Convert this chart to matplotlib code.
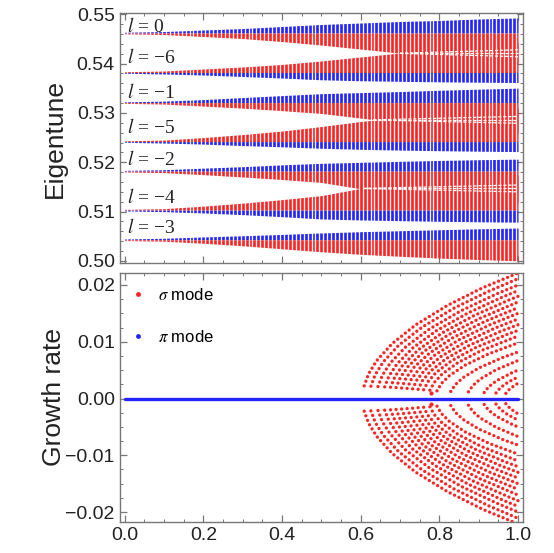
import numpy as np
import matplotlib
matplotlib.use('Agg')
import matplotlib.pyplot as plt
from matplotlib.lines import Line2D
from matplotlib.ticker import MultipleLocator, FuncFormatter

plt.rcParams['font.family'] = ['Liberation Sans', 'DejaVu Sans']
plt.rcParams['mathtext.fontset'] = 'stix'

RED = '#ff2424'
BLUE = '#2424ff'

# ---------------- top panel data (eigentune bands) ----------------
band_labels = ['0', '\u22126', '\u22121', '\u22125', '\u22122', '\u22124', '\u22123']
band_center = [0.5462, 0.5382, 0.5321, 0.5242, 0.5182, 0.5103, 0.5043]
band_label_y = [0.5464, 0.5401, 0.5330, 0.5259, 0.5194, 0.5117, 0.5057]
band_blue_above = [True, False, True, False, True, False, True]
band_x = [0.0, 0.1, 0.2, 0.3, 0.4, 0.5, 0.6, 0.7, 0.8, 0.9, 1.0]
# half-widths of the blue / red parts (units of 1e-3)
blue_ext = [
    [0.16, 0.30, 0.61, 0.91, 1.32, 1.73, 2.03, 2.34, 2.54, 2.85, 3.05],   # l=0
    [0.16, 0.30, 0.51, 0.81, 1.12, 1.48, 1.67, 1.79, 1.89, 1.97, 2.03],   # l=-6
    [0.16, 0.30, 0.61, 1.02, 1.42, 1.81, 2.03, 2.24, 2.50, 2.72, 2.93],   # l=-1
    [0.16, 0.30, 0.51, 0.81, 1.06, 1.36, 1.57, 1.73, 1.85, 1.95, 2.03],   # l=-5
    [0.16, 0.30, 0.61, 0.91, 1.28, 1.59, 1.79, 1.99, 2.17, 2.32, 2.44],   # l=-2
    [0.16, 0.30, 0.57, 0.91, 1.32, 1.79, 1.99, 2.13, 2.26, 2.36, 2.44],   # l=-4
    [0.16, 0.30, 0.57, 0.81, 1.08, 1.38, 1.63, 1.83, 2.03, 2.22, 2.38],   # l=-3
]
red_ext = [
    [0.16, 0.30, 0.71, 1.12, 1.73, 2.44, 3.25, 4.07, 4.88, 5.49, 6.10],   # l=0
    [0.16, 0.30, 0.71, 1.12, 1.63, 2.34, 3.15, 3.96, 4.78, 5.49, 6.10],   # l=-6
    [0.16, 0.30, 0.71, 1.12, 1.63, 2.20, 3.15, 4.07, 4.88, 5.69, 6.30],   # l=-1
    [0.16, 0.30, 0.81, 1.42, 2.13, 3.05, 4.07, 4.88, 5.69, 6.30, 6.91],   # l=-5
    [0.16, 0.30, 0.71, 1.18, 1.69, 2.28, 3.58, 4.27, 5.08, 5.69, 6.30],   # l=-2
    [0.16, 0.30, 0.81, 1.42, 2.13, 2.95, 4.41, 5.18, 5.89, 6.50, 7.11],   # l=-4
    [0.16, 0.30, 0.71, 1.22, 1.83, 2.44, 2.95, 3.35, 3.72, 4.02, 4.27],   # l=-3
]
# where the red parts of neighbouring bands meet (white braided gaps to the right)
fork_tip_x = [0.70, 0.632, 0.607]
fork_tip_y = [0.5421, 0.5286, 0.5147]
fork_end_offset = [0.0007, 0.0, -0.0007]

# ---------------- bottom panel data (growth rate) ----------------
# unstable sigma-mode branches (x, growth rate in units of 1e-3); mirrored +/-
arcs = [
    ([0.609, 0.620, 0.640, 0.680, 0.740, 0.820, 0.910, 1.0], [2.23, 4.33, 6.61, 9.67, 12.98, 16.38, 19.51, 22.1]),
    ([0.626, 0.637, 0.657, 0.697, 0.757, 0.837, 0.927, 1.0], [2.17, 4.20, 6.42, 9.40, 12.61, 15.91, 18.95, 21.1]),
    ([0.644, 0.655, 0.675, 0.715, 0.775, 0.855, 0.945, 1.0], [2.11, 4.08, 6.24, 9.13, 12.25, 15.46, 18.41, 20.0]),
    ([0.661, 0.672, 0.692, 0.732, 0.792, 0.872, 0.962, 1.0], [2.05, 3.97, 6.07, 8.88, 11.92, 15.04, 17.92, 19.0]),
    ([0.676, 0.687, 0.707, 0.747, 0.807, 0.887, 0.977, 1.0], [1.99, 3.85, 5.88, 8.61, 11.55, 14.57, 17.36, 18.0]),
    ([0.690, 0.701, 0.721, 0.761, 0.821, 0.901, 1.0], [1.92, 3.72, 5.68, 8.31, 11.15, 14.07, 17.0]),
    ([0.704, 0.715, 0.735, 0.775, 0.835, 0.915, 1.0], [1.85, 3.58, 5.47, 8.00, 10.73, 13.55, 16.0]),
    ([0.718, 0.729, 0.749, 0.789, 0.849, 0.929, 1.0], [1.77, 3.44, 5.25, 7.68, 10.31, 13.01, 15.0]),
    ([0.732, 0.743, 0.763, 0.803, 0.863, 0.943, 1.0], [1.70, 3.29, 5.02, 7.35, 9.86, 12.45, 14.0]),
    ([0.746, 0.757, 0.777, 0.817, 0.877, 0.957, 1.0], [1.62, 3.13, 4.79, 7.01, 9.40, 11.87, 13.0]),
    ([0.760, 0.771, 0.791, 0.831, 0.891, 0.971, 1.0], [1.54, 2.97, 4.54, 6.65, 8.93, 11.26, 12.0]),
    ([0.776, 0.787, 0.807, 0.847, 0.907, 1.0], [1.46, 2.82, 4.31, 6.31, 8.46, 11.0]),
    ([0.794, 0.805, 0.825, 0.865, 0.925, 1.0], [1.35, 2.62, 4.00, 5.86, 7.86, 9.8]),
    ([0.829, 0.840, 0.860, 0.900, 0.960, 1.0], [1.24, 2.40, 3.67, 5.37, 7.20, 8.2]),
    ([0.874, 0.885, 0.905, 0.945, 1.0], [1.18, 2.28, 3.48, 5.09, 6.7]),
    ([0.914, 0.925, 0.945, 0.985, 1.0], [1.05, 2.04, 3.12, 4.56, 5.0]),
    ([0.944, 0.955, 0.975, 1.0], [0.98, 1.90, 2.90, 3.8]),
    ([0.969, 0.980, 1.0], [0.91, 1.77, 2.7]),
]
extra_sigma_x = [0.779]
extra_sigma_y = [0.9]
pi_x = [0.0, 1.0]
pi_growth = [0.0, 0.0]

top_yticks = [0.50, 0.51, 0.52, 0.53, 0.54, 0.55]
bot_yticks = [-0.02, -0.01, 0.00, 0.01, 0.02]
xticks = [0.0, 0.2, 0.4, 0.6, 0.8, 1.0]

# ---------------- figure ----------------
fig = plt.figure(figsize=(5.54, 5.53), dpi=100)
ax1 = fig.add_axes([0.2161, 0.5239, 0.728, 0.4526])
ax2 = fig.add_axes([0.2161, 0.0566, 0.728, 0.4492])

XLIM = (-0.0125, 1.0127)

# top panel bands
for c, be, re_, above in zip(band_center, blue_ext, red_ext, band_blue_above):
    be = np.array(be) * 1e-3
    re_ = np.array(re_) * 1e-3
    if above:
        ax1.fill_between(band_x, c, c + be, color=BLUE, lw=0, zorder=2)
        ax1.fill_between(band_x, c - re_, c, color=RED, lw=0, zorder=2)
    else:
        ax1.fill_between(band_x, c, c + re_, color=RED, lw=0, zorder=2)
        ax1.fill_between(band_x, c - be, c, color=BLUE, lw=0, zorder=2)

# white gaps where red parts meet
for tx, ty in zip(fork_tip_x, fork_tip_y):
    for off in fork_end_offset:
        ax1.plot([tx, 1.0], [ty, ty + off], color='white', lw=0.9,
                 ls=(0, (2.5, 1.5)), zorder=3)

# dotted column texture (styling)
stripe_pos = np.arange(0.005, 1.0, 0.01)
ax1.vlines(stripe_pos, 0.49, 0.56, color='white', lw=0.95, zorder=4)

for lab, ly in zip(band_labels, band_label_y):
    ax1.text(0.006, ly, r'$l$ = ' + lab, fontsize=14, va='baseline', ha='left',
             color='#222222', zorder=6, family=['Liberation Serif', 'DejaVu Serif'])

ax1.set_xlim(*XLIM)
ax1.set_ylim(0.49953, 0.55026)
ax1.set_yticks(top_yticks)
ax1.yaxis.set_major_formatter(FuncFormatter(lambda v, p: f'{v:.2f}'))
ax1.yaxis.set_minor_locator(MultipleLocator(0.002))
ax1.set_xticks(xticks)
ax1.set_xticklabels([])
ax1.xaxis.set_minor_locator(MultipleLocator(0.05))
ax1.set_ylabel('Eigentune', fontsize=19, color='#222222')

# bottom panel
ax2.plot(pi_x, pi_growth, color=BLUE, lw=2.4, zorder=3, solid_capstyle='round')
for ax_, ay in arcs:
    ay = np.array(ay) * 1e-3
    for sgn in (1, -1):
        ax2.plot(ax_, sgn * ay, color=RED, lw=2.4, ls=(0, (0.01, 1.45)),
                 dash_capstyle='round', zorder=2)
ex = np.array(extra_sigma_y) * 1e-3
ax2.plot(extra_sigma_x, ex, 'o', color=RED, ms=3, mew=0, zorder=4)
ax2.plot(extra_sigma_x, -ex, 'o', color=RED, ms=3, mew=0, zorder=4)

handles = [Line2D([], [], ls='none', marker='o', ms=3.5, mew=0, color=RED, label=r'$\sigma$ mode'),
           Line2D([], [], ls='none', marker='o', ms=3.5, mew=0, color=BLUE, label=r'$\pi$ mode')]
ax2.legend(handles=handles, loc='upper left', frameon=False, fontsize=12,
           handlelength=0.6, handletextpad=0.9, labelspacing=1.6,
           borderaxespad=0.5, borderpad=0.3)

ax2.set_xlim(*XLIM)
ax2.set_ylim(-0.0217, 0.02206)
ax2.set_yticks(bot_yticks)
ax2.yaxis.set_major_formatter(FuncFormatter(lambda v, p: f'{v:.2f}'.replace('-', '\u2212')))
ax2.yaxis.set_minor_locator(MultipleLocator(0.0025))
ax2.set_xticks(xticks)
ax2.xaxis.set_major_formatter(FuncFormatter(lambda v, p: f'{v:.1f}'))
ax2.xaxis.set_minor_locator(MultipleLocator(0.05))
ax2.set_ylabel('Growth rate', fontsize=19, color='#222222')

for ax in (ax1, ax2):
    for sp in ax.spines.values():
        sp.set_color('#777777')
        sp.set_linewidth(1.0)
        sp.set_zorder(10)
    ax.tick_params(which='both', direction='in', top=True, right=True,
                   color='#777777', labelcolor='#222222', labelsize=14)
    ax.tick_params(which='major', length=5, width=0.9)
    ax.tick_params(which='minor', length=2.5, width=0.7)
    ax.yaxis.set_label_coords(-0.132, 0.5)

fig.savefig('out.png', dpi=100)
